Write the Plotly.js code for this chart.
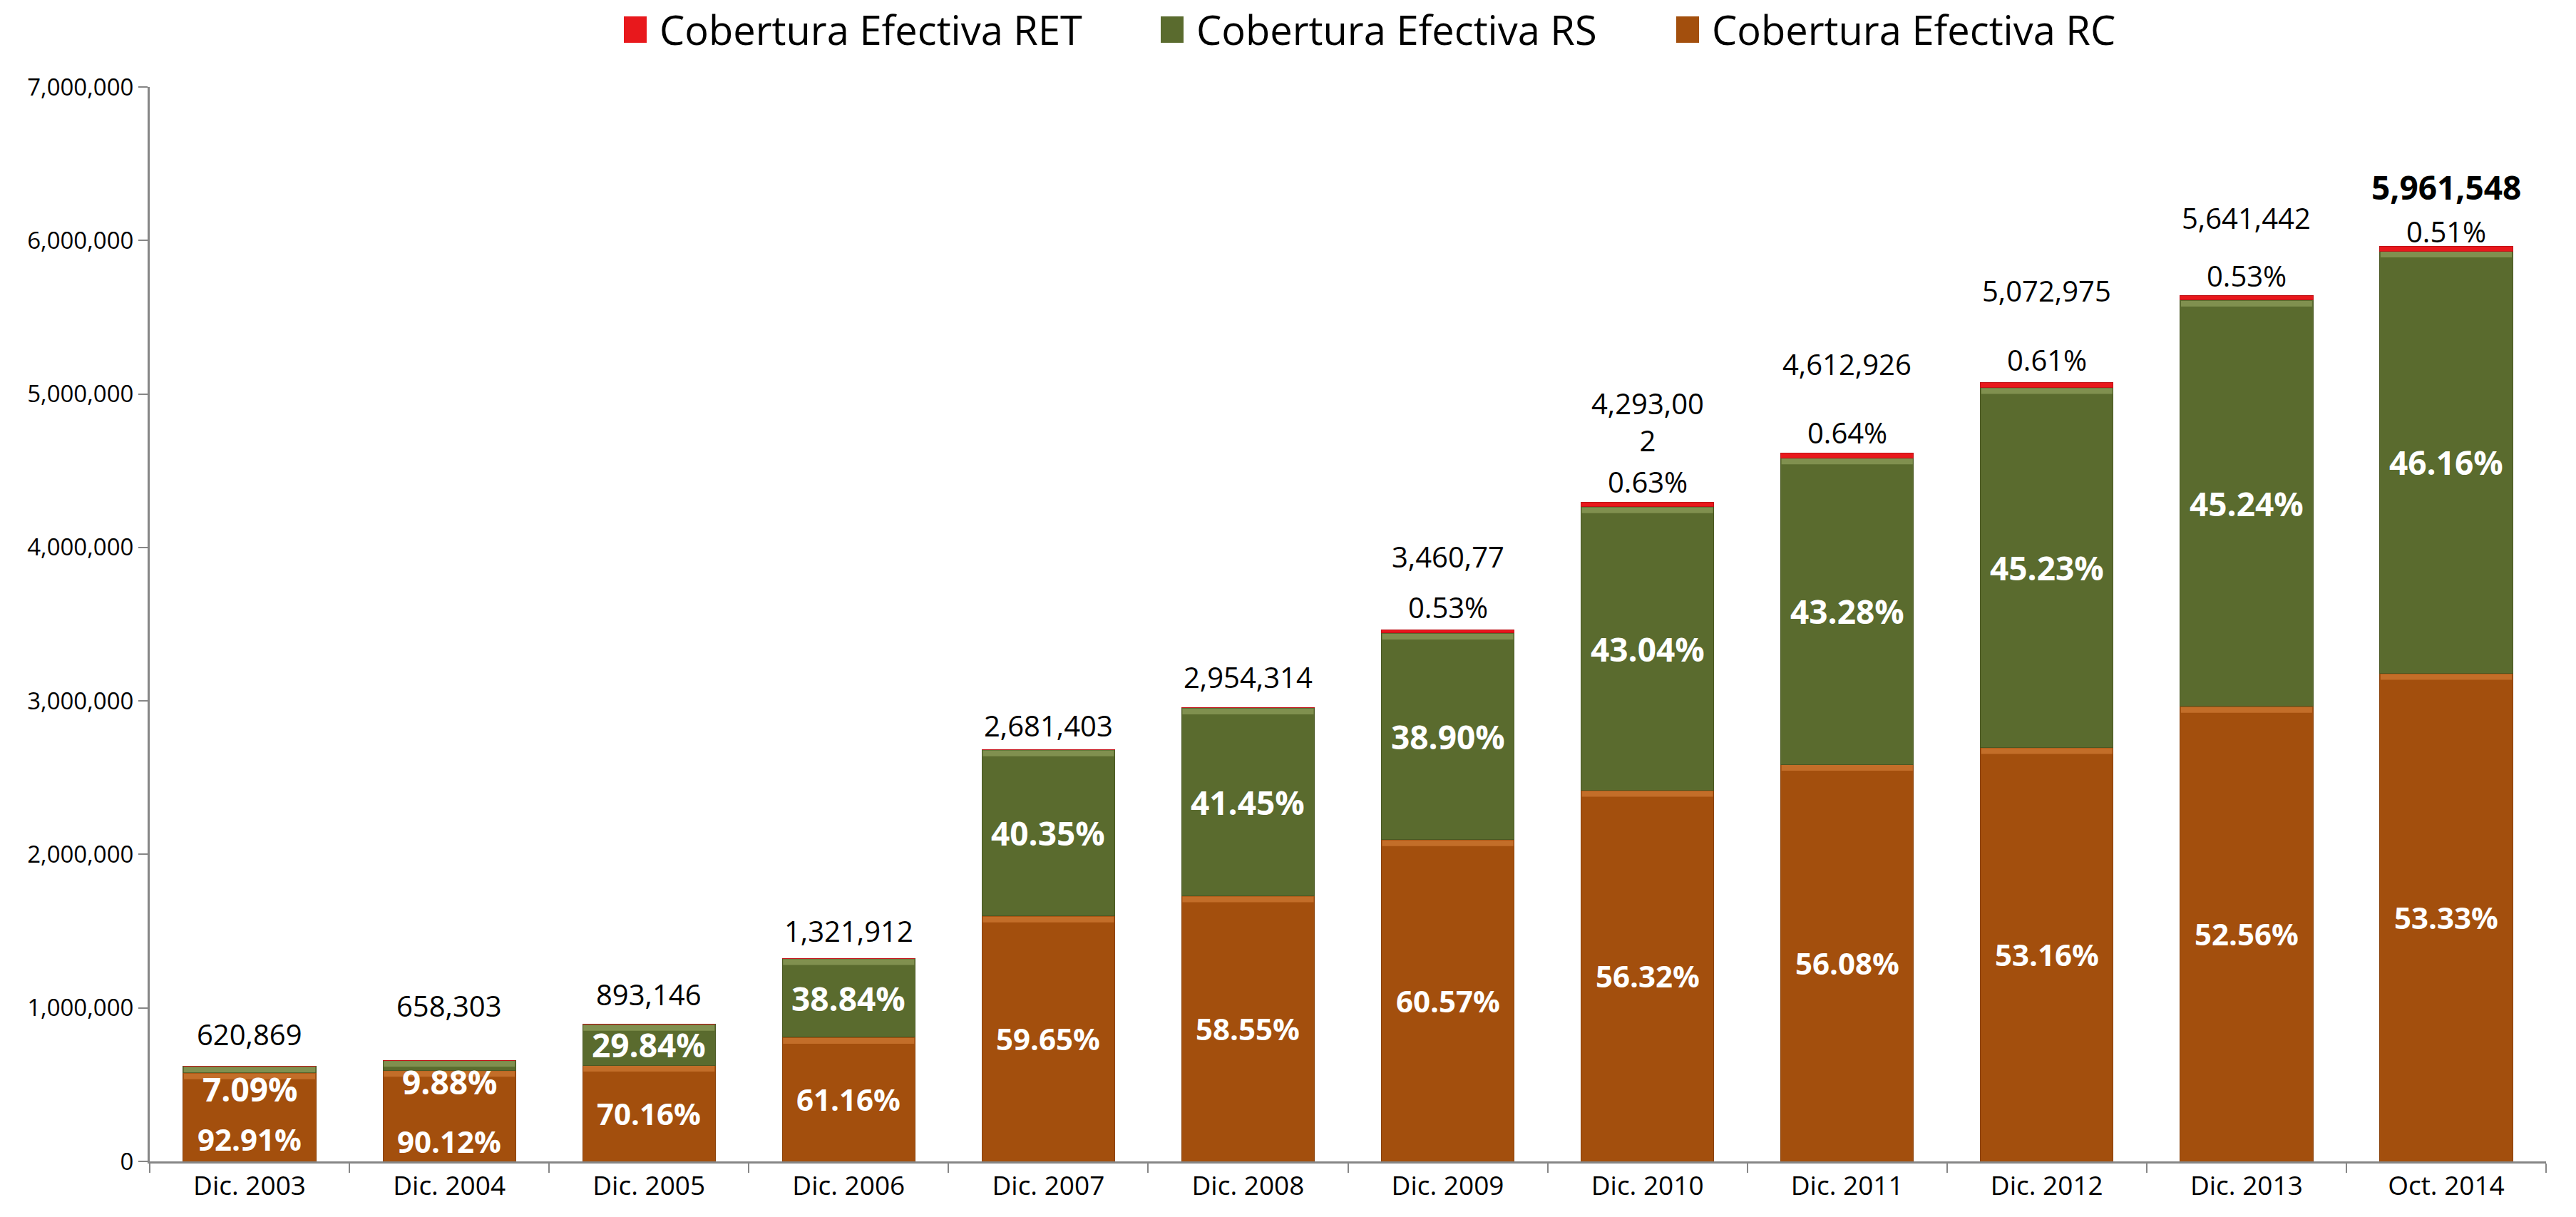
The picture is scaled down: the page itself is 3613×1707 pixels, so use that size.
<!DOCTYPE html>
<html>
<head>
<meta charset="utf-8">
<script src="https://cdn.plot.ly/plotly-3.0.1.min.js"></script>
<style>
  html, body { margin: 0; padding: 0; background: #ffffff; }
  #chart { width: 3613px; height: 1707px; }
</style>
</head>
<body>
<div id="chart"></div>
<script>
// ---- data ----
const categories = ["Dic. 2003", "Dic. 2004", "Dic. 2005", "Dic. 2006", "Dic. 2007", "Dic. 2008",
                    "Dic. 2009", "Dic. 2010", "Dic. 2011", "Dic. 2012", "Dic. 2013", "Oct. 2014"];
const rcValues  = [576849, 593263, 626631, 808481, 1599457, 1729751, 2096188, 2417819, 2586929, 2696793, 2965142, 3179294];
const rsValues  = [44020, 65040, 266515, 513431, 1081946, 1224563, 1346240, 1847708, 1996474, 2345237, 2646400, 2751850];
const retValues = [0, 0, 0, 0, 0, 0, 18342, 27046, 29523, 30945, 29900, 30404];
const totalLabels = ["620,869", "658,303", "893,146", "1,321,912", "2,681,403", "2,954,314",
                     "3,460,77", "4,293,00<br>2", "4,612,926", "5,072,975", "5,641,442", "<b>5,961,548</b>"];
const rcLabels  = ["92.91%", "90.12%", "70.16%", "61.16%", "59.65%", "58.55%", "60.57%", "56.32%", "56.08%", "53.16%", "52.56%", "53.33%"];
const rsLabels  = ["7.09%", "9.88%", "29.84%", "38.84%", "40.35%", "41.45%", "38.90%", "43.04%", "43.28%", "45.23%", "45.24%", "46.16%"];
const retLabels = ["", "", "", "", "", "", "0.53%", "0.63%", "0.64%", "0.61%", "0.53%", "0.51%"];
const seriesNames = ["Cobertura Efectiva RC", "Cobertura Efectiva RS", "Cobertura Efectiva RET"];
const yTickVals = [0, 1000000, 2000000, 3000000, 4000000, 5000000, 6000000, 7000000];

// ---- label placement (pixel offsets, layout only) ----
const totalShift = [45, 77, 42, 39, 34, 43, 103, 113, 125, 129, 109, 84];
const retShift   = [0, 0, 0, 0, 0, 0, 32, 29, 29, 32, 28, 21];
const rcShift    = [-31, -35, 0, 0, 0, 0, 0, 0, 0, 0, 0, 0];
const rsShift    = [-27, -23, 0, 0, 0, 0, 0, 0, 0, 0, 0, 0];
const totalSize  = [40, 40, 40, 40, 40, 40, 40, 40, 40, 40, 40, 46];

const FONT = "Open Sans, Noto Sans, sans-serif";
const C_RC = "#A34F0D", C_RS = "#5A6B2E", C_RET = "#E8181C";
const HL_RC = "#C9732F", HL_RS = "#879755";
const colors = [C_RC, C_RS, C_RET];
const BAR_GAP = 0.335;

// plot area geometry (px)
const ML = 210, MR = 42, MT = 122, MB = 78, W = 3613, H = 1707;
const PW = W - ML - MR, PH = H - MT - MB;
const px2x = p => (p - ML) / PW;
const py2y = p => (H - MB - p) / PH;

const traces = [
  { type: "bar", name: seriesNames[0], x: categories, y: rcValues, showlegend: false,
    marker: { color: C_RC, line: { color: "#8A420A", width: 1 } }, hoverinfo: "skip" },
  { type: "bar", name: seriesNames[1], x: categories, y: rsValues, showlegend: false,
    marker: { color: C_RS, line: { color: "#4A5823", width: 1 } }, hoverinfo: "skip" },
  { type: "bar", name: seriesNames[2], x: categories, y: retValues, showlegend: false,
    marker: { color: C_RET, line: { color: "#C01217", width: 1 } }, hoverinfo: "skip" }
];

const annotations = [];
const shapes = [];
const half = (1 - BAR_GAP) / 2;
categories.forEach((c, i) => {
  const rc = rcValues[i], rs = rsValues[i], ret = retValues[i];
  const top = rc + rs + ret;
  // bevel highlight at the top of each segment
  [[rc, HL_RC], [rc + rs, HL_RS]].forEach(([yv, col]) => {
    shapes.push({ type: "rect", xref: "x", yref: "y", x0: i - half + 0.004, x1: i + half - 0.004,
      ysizemode: "pixel", yanchor: yv, y0: -9, y1: -1, fillcolor: col, opacity: 0.85,
      line: { width: 0 }, layer: "above" });
  });
  annotations.push({ x: c, y: rc / 2, text: "<b>" + rcLabels[i] + "</b>", showarrow: false,
    yshift: rcShift[i], font: { family: FONT, size: 42, color: "#ffffff" } });
  annotations.push({ x: c, y: rc + rs / 2, text: "<b>" + rsLabels[i] + "</b>", showarrow: false,
    yshift: rsShift[i], font: { family: FONT, size: 46, color: "#ffffff" } });
  if (retLabels[i]) {
    annotations.push({ x: c, y: top, text: retLabels[i], showarrow: false, yanchor: "middle",
      yshift: retShift[i], font: { family: FONT, size: 40, color: "#000000" } });
  }
  annotations.push({ x: c, y: top, text: totalLabels[i], showarrow: false, yanchor: "middle",
    yshift: totalShift[i], font: { family: FONT, size: totalSize[i], color: "#000000" } });
});

// legend (drawn at the top, order RET, RS, RC)
const legendItems = [
  { name: seriesNames[2], color: C_RET, sx: 875 },
  { name: seriesNames[1], color: C_RS, sx: 1628 },
  { name: seriesNames[0], color: C_RC, sx: 2351 }
];
legendItems.forEach(it => {
  shapes.push({ type: "rect", xref: "paper", yref: "paper",
    x0: px2x(it.sx), x1: px2x(it.sx + 32), y0: py2y(60), y1: py2y(23),
    fillcolor: it.color, line: { width: 0 } });
  annotations.push({ xref: "paper", yref: "paper", x: px2x(it.sx + 48), y: py2y(41),
    xanchor: "left", yanchor: "middle", text: it.name, showarrow: false,
    font: { family: FONT, size: 56, color: "#000000" } });
});

const layout = {
  width: W, height: H,
  margin: { l: ML, r: MR, t: MT, b: MB },
  paper_bgcolor: "#ffffff", plot_bgcolor: "#ffffff",
  barmode: "stack", bargap: BAR_GAP,
  font: { family: FONT, color: "#000000" },
  showlegend: false,
  xaxis: { type: "category", showline: true, linecolor: "#868686", linewidth: 3,
           ticks: "outside", tickson: "boundaries", ticklen: 13, tickcolor: "#868686", tickwidth: 2,
           tickfont: { family: FONT, size: 37, color: "#000000" }, showgrid: false, fixedrange: true },
  yaxis: { range: [0, 7000000], tickvals: yTickVals, tickformat: ",d", showline: true,
           linecolor: "#868686", linewidth: 3, ticks: "outside", ticklen: 13, tickcolor: "#868686",
           tickwidth: 2, showgrid: false, zeroline: false,
           tickfont: { family: FONT, size: 33, color: "#000000" }, fixedrange: true },
  shapes: shapes,
  annotations: annotations
};

Plotly.newPlot("chart", traces, layout, { displayModeBar: false, staticPlot: true });
</script>
</body>
</html>
